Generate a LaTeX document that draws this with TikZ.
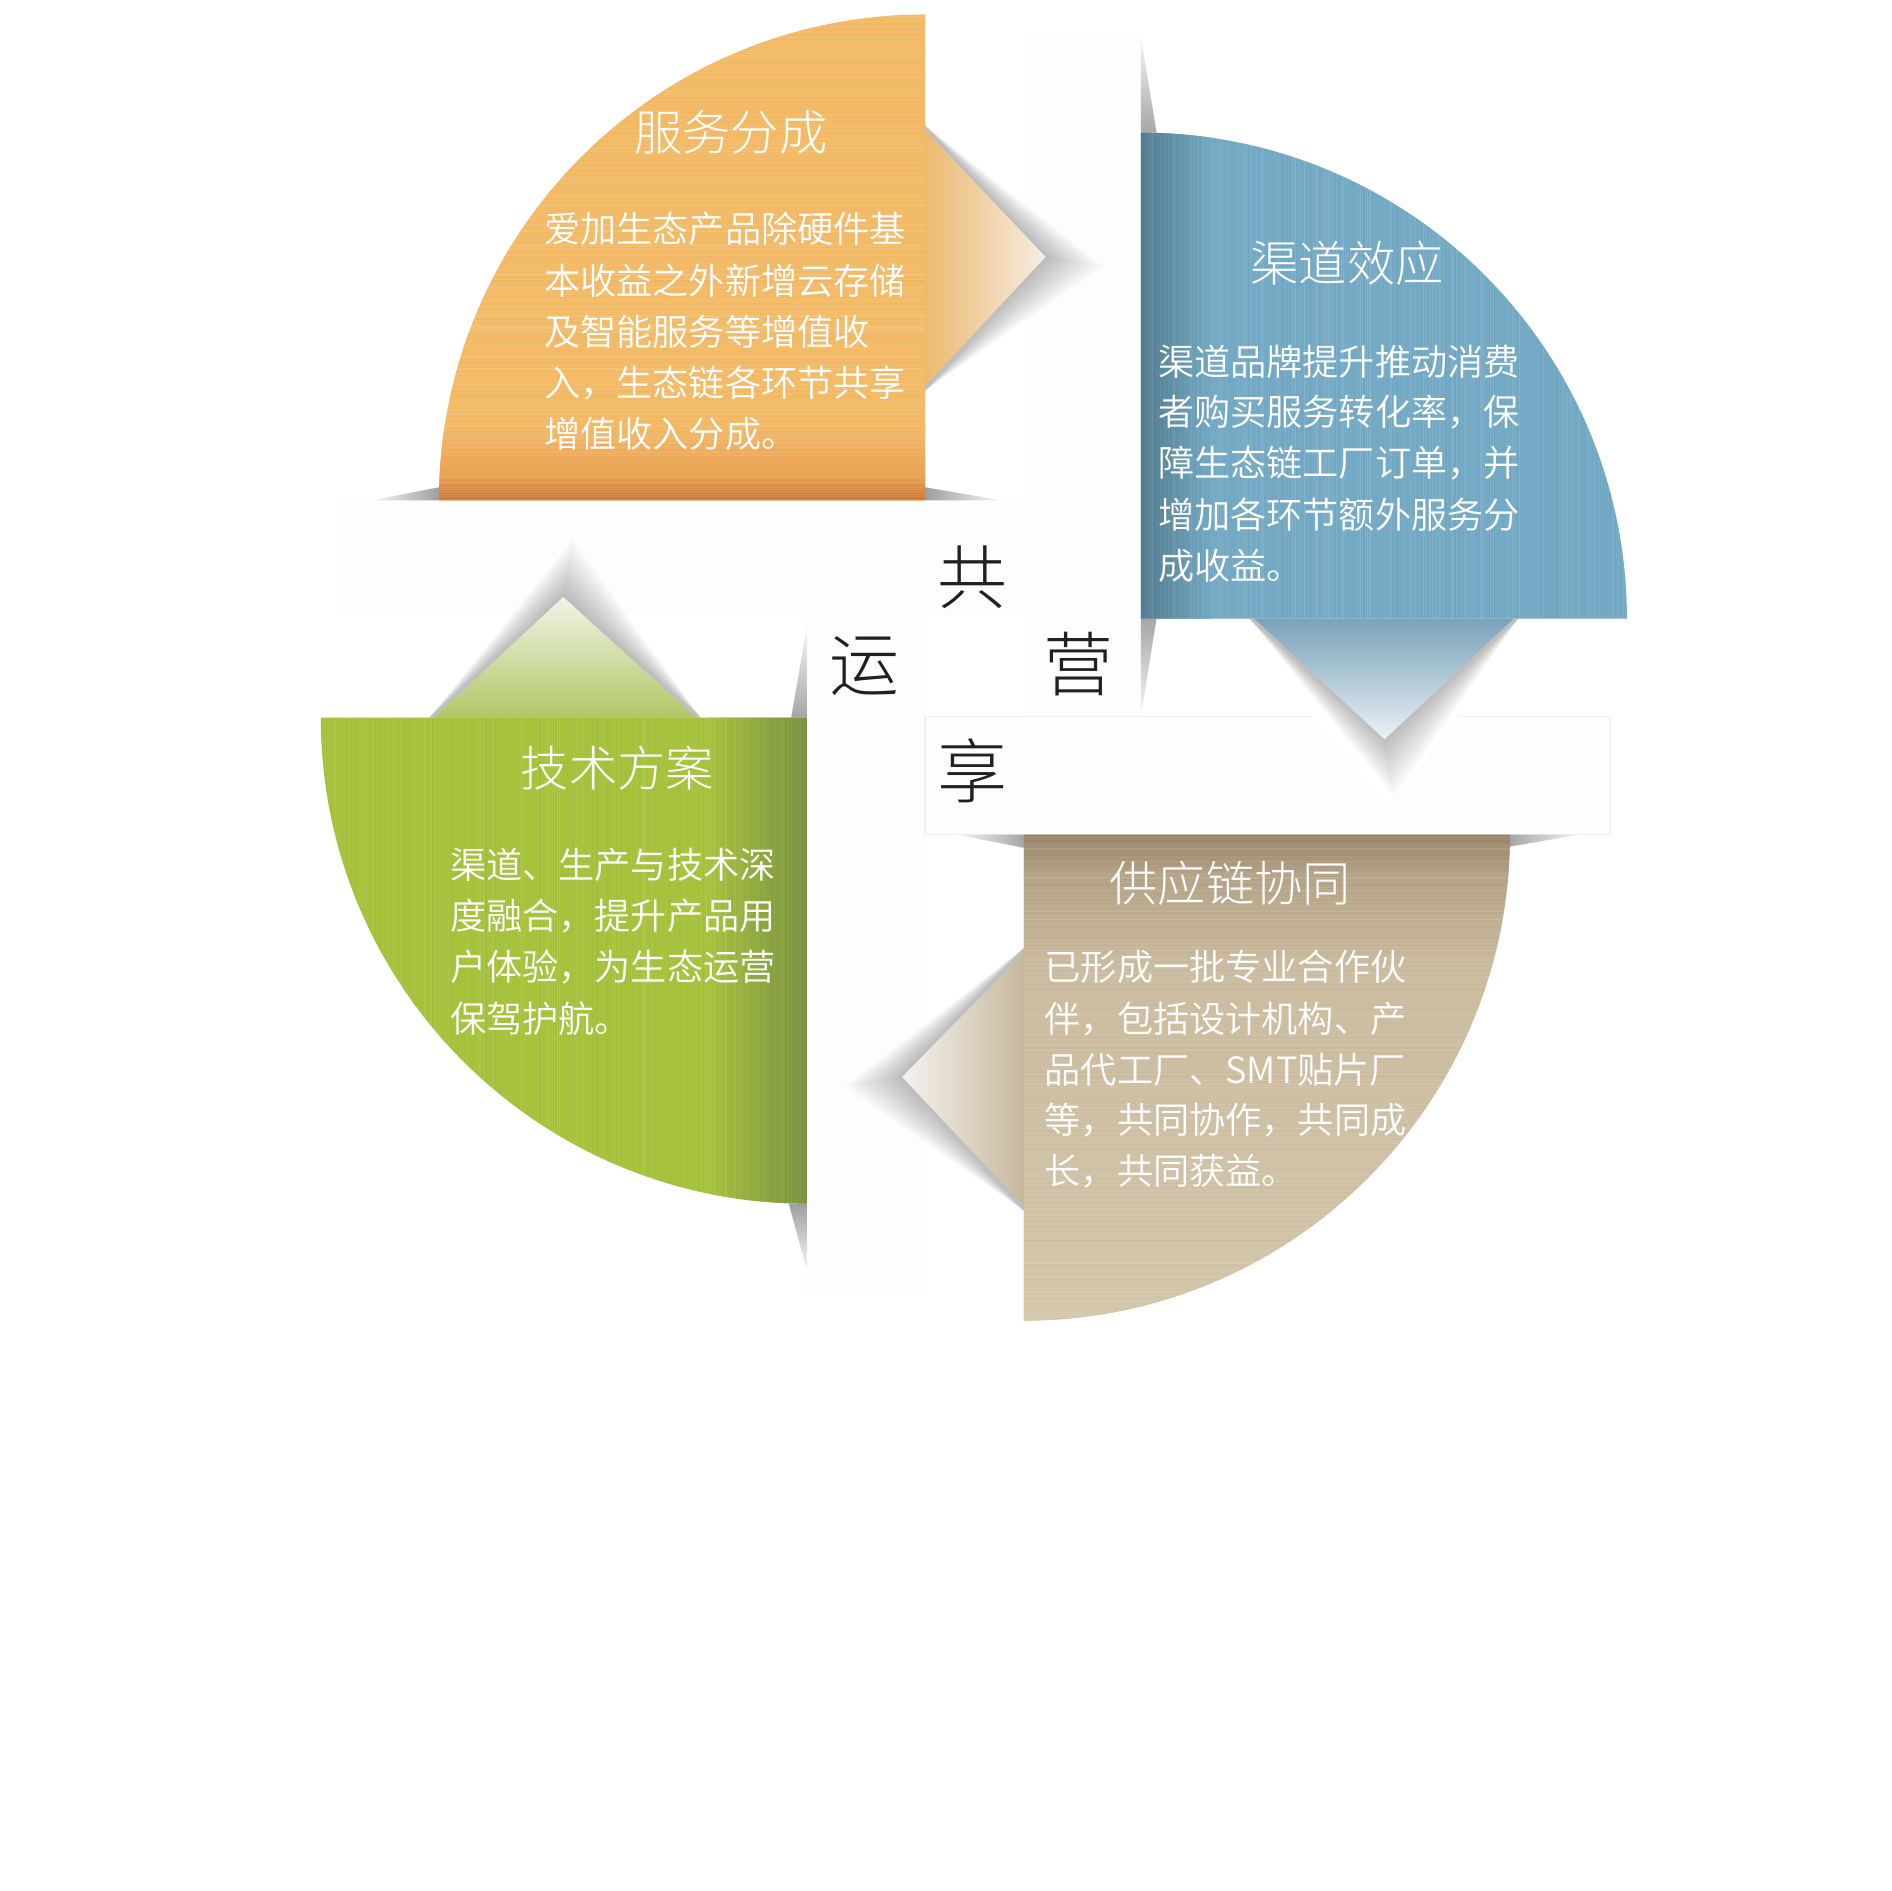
\documentclass[tikz,border=0pt]{standalone}
\usepackage{fontspec}
\IfFontExistsTF{Noto Sans CJK SC Light}{\newfontfamily\cjk{Noto Sans CJK SC Light}}{\newfontfamily\cjk{Noto Sans CJK SC}}
\IfFontExistsTF{Noto Sans CJK SC DemiLight}{\newfontfamily\cjkdemi{Noto Sans CJK SC DemiLight}}{\newfontfamily\cjkdemi{Noto Sans CJK SC}}
\definecolor{orM}{HTML}{F3BA66}
\definecolor{orD1}{HTML}{E9A153}
\definecolor{orD2}{HTML}{C96F30}
\definecolor{blM}{HTML}{73A9C4}
\definecolor{blD}{HTML}{4F778A}
\definecolor{grM}{HTML}{A6C23B}
\definecolor{grD}{HTML}{76903F}
\definecolor{tnT}{HTML}{958168}
\definecolor{tnU}{HTML}{B4A286}
\definecolor{tnM}{HTML}{CBBB9F}
\definecolor{tnB}{HTML}{D3C6AB}
\definecolor{ink}{HTML}{231F20}
\definecolor{band}{HTML}{FDFDFD}
\definecolor{bandline}{HTML}{F0F0F0}
\definecolor{orT1}{HTML}{ECBA70}
\definecolor{orT2}{HTML}{F6EDE3}
\definecolor{blT1}{HTML}{7AA3BA}
\definecolor{blT2}{HTML}{EAF1F5}
\definecolor{grT1}{HTML}{B0C766}
\definecolor{grT2}{HTML}{F1F4E6}
\definecolor{tnT1}{HTML}{C7B89D}
\definecolor{tnT2}{HTML}{F5F3EF}
\newcommand{\orP}{(767,415) -- (767,12) arc[start angle=-90, end angle=-180, radius=403] -- cycle}
\newcommand{\blP}{(946,513) -- (946,110) arc[start angle=-90, end angle=0, radius=403] -- cycle}
\newcommand{\grP}{(669,595) -- (266,595) arc[start angle=180, end angle=90, radius=403] -- cycle}
\newcommand{\tnP}{(849,692) -- (1252,692) arc[start angle=0, end angle=90, radius=403] -- cycle}
\tikzset{
  bandbox/.style={fill=band},
  bandedge/.style={fill=band, draw=bandline, line width=1},
  body/.style={font=\cjkdemi\fontsize{30}{36}\selectfont, text=white, inner sep=0, anchor=west},
  ttl/.style={font=\cjk\fontsize{40}{48}\selectfont, text=white, inner sep=0, anchor=center},
  hub/.style={font=\cjk\fontsize{58}{60}\selectfont, text=ink, inner sep=0, anchor=center},
  shd/.style={fill=black, opacity=0.015},
}
\begin{document}
\begin{tikzpicture}[x=1pt,y=-1pt]
\fill[white] (0,0) rectangle (1568,1568);
\useasboundingbox (0,0) rectangle (1568,1568);
% faint paper bands
\fill[bandbox] (279,416) rectangle (850,511);
\fill[bandbox] (849,27) rectangle (946,594);
\fill[bandbox] (669,511) rectangle (767,1075);
\draw[bandedge] (767,594) rectangle (1335,692);
% clear the band line under the blue shadow
\fill[white] (1020,513) -- (1150,668) -- (1275,513) -- cycle;
% edge slivers
\shade[left color=black!3, right color=black!38] (308,415) -- (364,404) -- (364,415) -- cycle;
\shade[left color=black!38, right color=black!3] (767,404) -- (831,415) -- (767,415) -- cycle;
\shade[top color=black!3, bottom color=black!35] (946,30) -- (959,110) -- (946,110) -- cycle;
\shade[top color=black!35, bottom color=black!3] (946,513) -- (959,513) -- (946,594) -- cycle;
\shade[top color=black!3, bottom color=black!35] (669,520) -- (669,595) -- (656,595) -- cycle;
\shade[top color=black!38, bottom color=black!3] (669,998) -- (654,998) -- (669,1053) -- cycle;
\shade[left color=black!3, right color=black!35] (793,692) -- (849,692) -- (849,703) -- cycle;
\shade[left color=black!35, right color=black!3] (1252,692) -- (1310,692) -- (1252,702) -- cycle;
% triangle shadows
\foreach \i in {1,...,16}{
  \fill[shd] (767,104) -- ({867+3*\i},{213+0.5*\i}) -- (767,324) -- cycle;
  \fill[shd] (1036,513) -- ({1148+0.5*\i},{613+3*\i}) -- (1259,513) -- cycle;
  \fill[shd] (356,595) -- ({467+0.5*\i},{495-3*\i}) -- (581,595) -- cycle;
  \fill[shd] (849,786) -- ({748-3*\i},{893+0.5*\i}) -- (849,1004) -- cycle;
}
% triangles
\shade[left color=orT1, right color=orT2] (767,108) -- (867,213) -- (767,320) -- cycle;
\shade[top color=blT1, bottom color=blT2] (1040,513) -- (1148,613) -- (1255,513) -- cycle;
\shade[bottom color=grT1, top color=grT2] (360,595) -- (467,495) -- (577,595) -- cycle;
\shade[right color=tnT1, left color=tnT2] (849,790) -- (748,893) -- (849,1000) -- cycle;
\pgfmathsetseed{11}
% orange quadrant
\begin{scope}
  \clip \orP;
  \fill[orM] (300,0) rectangle (800,420);
  \shade[top color=orM, bottom color=orD1] (300,350) rectangle (800,396);
  \shade[top color=orD1, bottom color=orD2] (300,395) rectangle (800,416);
  \foreach \k in {0,...,201}{
    \pgfmathsetmacro\op{0.14*rnd}
    \draw[white, opacity=\op, line width=0.9] (360,{12+2*\k}) -- (770,{12+2*\k});
  }
  \foreach \k in {0,...,100}{
    \pgfmathsetmacro\op{0.07*rnd}
    \draw[orD2, opacity=\op, line width=0.9] (360,{13+4*\k}) -- (770,{13+4*\k});
  }
\end{scope}
% blue quadrant
\begin{scope}
  \clip \blP;
  \fill[blM] (940,100) rectangle (1360,520);
  \shade[left color=blD, right color=blM] (940,100) rectangle (1005,520);
  \foreach \k in {0,...,202}{
    \pgfmathsetmacro\op{0.12*rnd}
    \draw[white, opacity=\op, line width=0.9] ({946+2*\k},100) -- ({946+2*\k},520);
  }
  \foreach \k in {0,...,101}{
    \pgfmathsetmacro\op{0.10*rnd}
    \draw[blD, opacity=\op, line width=0.9] ({947+4*\k},100) -- ({947+4*\k},520);
  }
\end{scope}
% green quadrant
\begin{scope}
  \clip \grP;
  \fill[grM] (260,590) rectangle (675,1005);
  \shade[left color=grM, right color=grD] (588,590) rectangle (670,1005);
  \foreach \k in {0,...,202}{
    \pgfmathsetmacro\op{0.10*rnd}
    \draw[white, opacity=\op, line width=0.9] ({266+2*\k},590) -- ({266+2*\k},1005);
  }
  \foreach \k in {0,...,101}{
    \pgfmathsetmacro\op{0.12*rnd}
    \draw[grD, opacity=\op, line width=0.9] ({267+4*\k},590) -- ({267+4*\k},1005);
  }
\end{scope}
% tan quadrant
\begin{scope}
  \clip \tnP;
  \fill[tnM] (840,685) rectangle (1260,1100);
  \shade[top color=tnT, bottom color=tnU] (840,690) rectangle (1260,725);
  \shade[top color=tnU, bottom color=tnM] (840,724) rectangle (1260,805);
  \shade[top color=tnM, bottom color=tnB] (840,804) rectangle (1260,1100);
  \foreach \k in {0,...,202}{
    \pgfmathsetmacro\op{0.12*rnd}
    \draw[white, opacity=\op, line width=0.9] (845,{692+2*\k}) -- (1260,{692+2*\k});
  }
  \foreach \k in {0,...,101}{
    \pgfmathsetmacro\op{0.08*rnd}
    \draw[tnT, opacity=\op, line width=0.9] (845,{693+4*\k}) -- (1260,{693+4*\k});
  }
\end{scope}
% titles
\node[ttl] (tO) at (606,110) {服务分成};
\node[ttl] (tB) at (1117,218) {渠道效应};
\node[ttl] (tG) at (512,637) {技术方案};
\node[ttl] (tT) at (1020,732) {供应链协同};
% orange body
\node[body] (o1) at (451,190) {爱加生态产品除硬件基};
\node[body] (o2) at (451,233) {本收益之外新增云存储};
\node[body] (o3) at (451,275) {及智能服务等增值收};
\node[body] (o4) at (451,318) {入，生态链各环节共享};
\node[body] (o5) at (451,360) {增值收入分成。};
% blue body
\node[body] (b1) at (960,300) {渠道品牌提升推动消费};
\node[body] (b2) at (960,342) {者购买服务转化率，保};
\node[body] (b3) at (960,384) {障生态链工厂订单，并};
\node[body] (b4) at (960,427) {增加各环节额外服务分};
\node[body] (b5) at (960,469) {成收益。};
% green body
\node[body] (g1) at (373,717) {渠道、生产与技术深};
\node[body] (g2) at (373,760) {度融合，提升产品用};
\node[body] (g3) at (373,802) {户体验，为生态运营};
\node[body] (g4) at (373,845) {保驾护航。};
% tan body
\node[body] (t1) at (866,802) {已形成一批专业合作伙};
\node[body] (t2) at (866,845) {伴，包括设计机构、产};
\node[body] (t3) at (866,887) {品代工厂、SMT贴片厂};
\node[body] (t4) at (866,929) {等，共同协作，共同成};
\node[body] (t5) at (866,971) {长，共同获益。};
% hub characters
\node[hub] (h1) at (806,479) {共};
\node[hub] (h2) at (717,552) {运};
\node[hub] (h3) at (894,551) {营};
\node[hub] (h4) at (806,639) {享};
\end{tikzpicture}
\end{document}
